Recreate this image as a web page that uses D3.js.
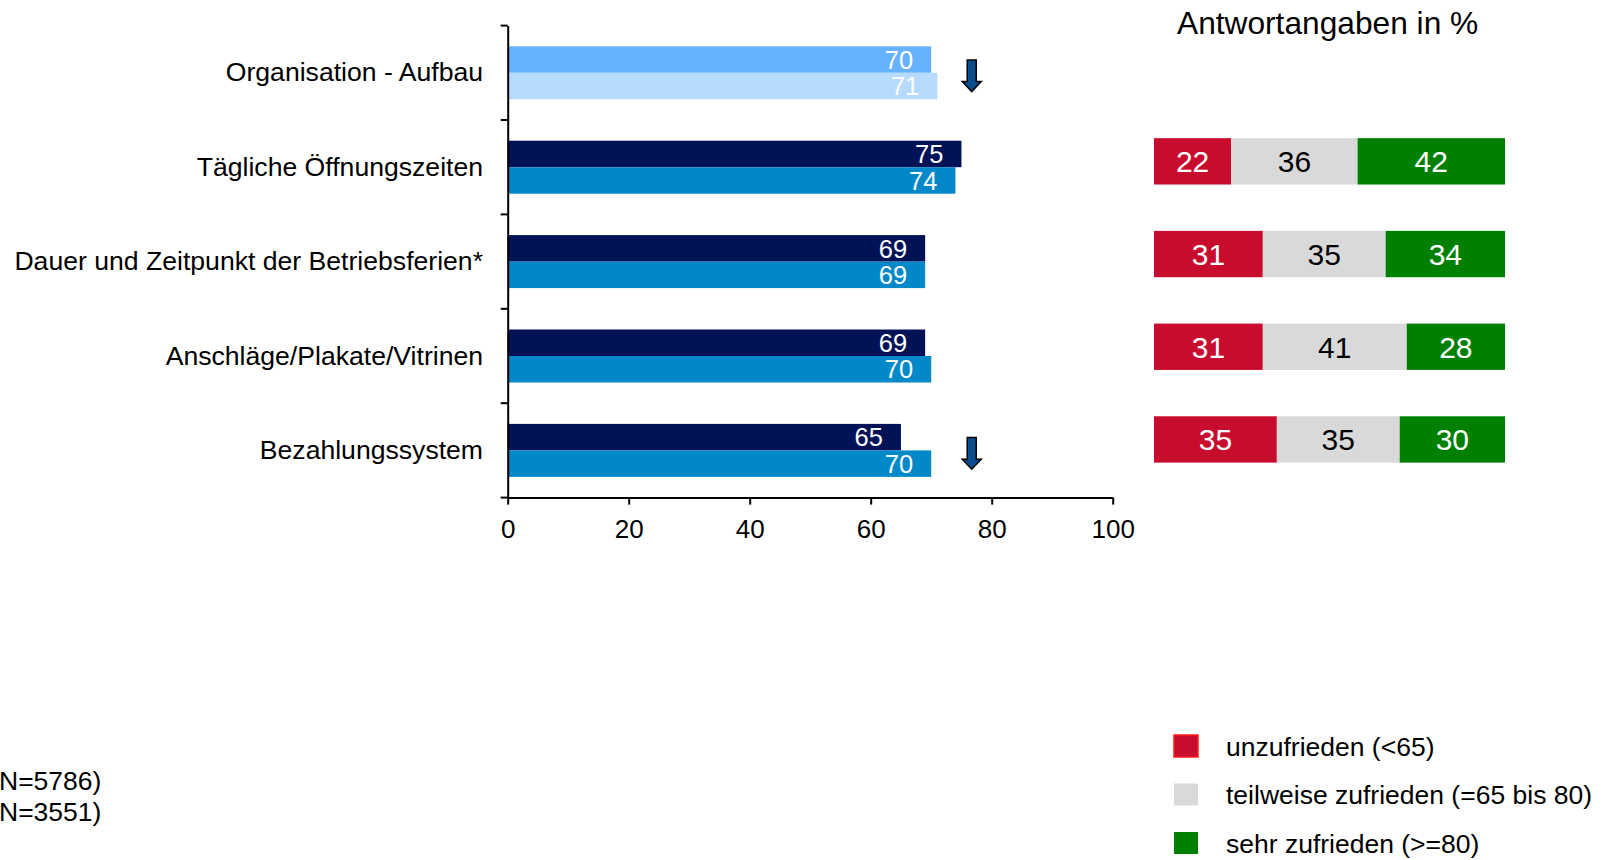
<!DOCTYPE html>
<html>
<head>
<meta charset="utf-8">
<script src="https://cdn.jsdelivr.net/npm/d3@7"></script>
<style>
  body { margin: 0; background: #fff; }
  svg { display: block; font-family: "Liberation Sans", Arial, sans-serif; }
</style>
</head>
<body>
<div id="chart"></div>
<script>
// categories (top to bottom)
const categories = [
  "Organisation - Aufbau",
  "Tägliche Öffnungszeiten",
  "Dauer und Zeitpunkt der Betriebsferien*",
  "Anschläge/Plakate/Vitrinen",
  "Bezahlungssystem"
];
// mean scores, first bar / second bar of each pair
const current = [70, 75, 69, 69, 65];
const previous = [71, 74, 69, 70, 70];
// significance markers
const trend = ["down", null, null, null, "down"];

// answer distribution in % (no values for the first item)
const unzufrieden = [null, 22, 31, 31, 35];
const teilweise   = [null, 36, 35, 41, 35];
const sehr        = [null, 42, 34, 28, 30];

const xTicks = [0, 20, 40, 60, 80, 100];
const legendLabels = ["unzufrieden (<65)", "teilweise zufrieden (=65 bis 80)", "sehr zufrieden (>=80)"];
const sampleNotes = ["N=5786)", "N=3551)"];
const title = "Antwortangaben in %";

const W = 1605, H = 860;
const svg = d3.select("#chart").append("svg")
    .attr("width", W)
    .attr("height", H);

// ---- left: grouped bar chart ----
const x = d3.scaleLinear().domain([0, 100]).range([507.7, 1112.7]);
const y = d3.scaleBand().domain(categories).range([25.6, 497.6]).padding(0);
const ySub = d3.scaleBand().domain(["cur", "prev"]).range([0, y.bandwidth()])
    .paddingInner(0).paddingOuter(0.781);

const rows = categories.map((c, i) => ({
  cat: c, i: i, cur: current[i], prev: previous[i], trend: trend[i]
}));

const colors = {
  cur: "#021257", prev: "#0088C8",
  curHi: "#66B2FF", prevHi: "#B7DAFF"
};

const left = svg.append("g");
const groups = left.selectAll("g.row").data(rows).enter().append("g")
    .attr("class", "row")
    .attr("transform", d => `translate(0, ${y(d.cat)})`);

["cur", "prev"].forEach(key => {
  groups.append("rect")
      .attr("x", x(0))
      .attr("y", ySub(key))
      .attr("width", d => x(d[key]) - x(0))
      .attr("height", ySub.bandwidth())
      .attr("fill", d => d.i === 0 ? colors[key + "Hi"] : colors[key]);
  groups.append("text")
      .attr("x", d => x(d[key]) - 18)
      .attr("y", ySub(key) + ySub.bandwidth() / 2)
      .attr("dy", "0.36em")
      .attr("text-anchor", "end")
      .attr("fill", "#fff")
      .style("font-size", "25.5px")
      .text(d => d[key]);
});

// down arrows
const arrowX = x(76.7);
groups.filter(d => d.trend === "down").append("path")
    .attr("d", () => {
      const cx = arrowX, t = 34.4, h = 56, b = 66;
      return `M${cx - 4.5},${t} L${cx + 4.5},${t} L${cx + 4.5},${h} L${cx + 9.5},${h} ` +
             `L${cx},${b} L${cx - 9.5},${h} L${cx - 4.5},${h} Z`;
    })
    .attr("fill", "#0B4C8C")
    .attr("stroke", "#000")
    .attr("stroke-width", 1.5);

// x axis
const xAxis = left.append("g")
    .attr("transform", `translate(0, ${y.range()[1]})`)
    .call(d3.axisBottom(x).tickValues(xTicks).tickSize(7).tickSizeOuter(0).tickPadding(15));
xAxis.select(".domain").attr("stroke", "#000").attr("stroke-width", 2);
xAxis.selectAll(".tick line").attr("stroke", "#000").attr("stroke-width", 2);
xAxis.selectAll("text").attr("fill", "#000").style("font-size", "26px")
    .attr("font-family", null);

// y axis with labels
const yAxis = left.append("g")
    .attr("transform", `translate(${x(0)}, 0)`)
    .call(d3.axisLeft(y).tickSize(0).tickSizeOuter(0).tickPadding(24.7));
yAxis.select(".domain").attr("stroke", "#000").attr("stroke-width", 2);
yAxis.selectAll("text").attr("fill", "#000").style("font-size", "26.6px")
    .attr("font-family", null);

// boundary ticks between categories
const bounds = categories.map(c => y(c)).concat([y.range()[1]]);
yAxis.selectAll("line.bound").data(bounds).enter().append("line")
    .attr("class", "bound")
    .attr("x1", -7).attr("x2", 0)
    .attr("y1", d => d).attr("y2", d => d)
    .attr("stroke", "#000").attr("stroke-width", 2);

// ---- right: stacked distribution ----
const xr = d3.scaleLinear().domain([0, 100]).range([1154, 1505]);
const yr = d3.scaleBand().domain(categories).range([22.3, 485.8])
    .paddingInner(0.5).paddingOuter(0.25);

const segKeys = ["unzufrieden", "teilweise", "sehr"];
const segColor = { unzufrieden: "#C80C2D", teilweise: "#D9D9D9", sehr: "#008000" };
const segText = { unzufrieden: "#fff", teilweise: "#000", sehr: "#fff" };
const dist = categories.map((c, i) => ({
  cat: c, unzufrieden: unzufrieden[i], teilweise: teilweise[i], sehr: sehr[i]
})).filter(d => d.unzufrieden !== null);

const stacked = d3.stack().keys(segKeys)(dist);

const right = svg.append("g");
const layers = right.selectAll("g.layer").data(stacked).enter().append("g")
    .attr("class", "layer");
layers.selectAll("rect").data(s => s.map(p => ({ key: s.key, p: p }))).enter().append("rect")
    .attr("x", d => xr(d.p[0]))
    .attr("y", d => yr(d.p.data.cat))
    .attr("width", d => xr(d.p[1]) - xr(d.p[0]))
    .attr("height", yr.bandwidth())
    .attr("fill", d => segColor[d.key]);
layers.selectAll("text").data(s => s.map(p => ({ key: s.key, p: p }))).enter().append("text")
    .attr("x", d => (xr(d.p[0]) + xr(d.p[1])) / 2)
    .attr("y", d => yr(d.p.data.cat) + yr.bandwidth() / 2)
    .attr("dy", "0.36em")
    .attr("text-anchor", "middle")
    .attr("fill", d => segText[d.key])
    .style("font-size", "30px")
    .text(d => d.p[1] - d.p[0]);

right.append("text")
    .attr("x", 1177)
    .attr("y", 34)
    .attr("fill", "#000")
    .style("font-size", "31.7px")
    .text(title);

// legend
const legend = svg.append("g").attr("transform", "translate(1174, 746)");
const li = legend.selectAll("g").data(segKeys).enter().append("g")
    .attr("transform", (d, i) => `translate(0, ${i * 48.5})`);
li.append("rect")
    .attr("x", 0).attr("y", -11)
    .attr("width", 24).attr("height", 22)
    .attr("fill", d => segColor[d])
    .attr("stroke", d => d === "unzufrieden" ? "#FF1A1A" : "none")
    .attr("stroke-width", 1.5);
li.append("text")
    .attr("x", 52)
    .attr("dy", "0.36em")
    .attr("fill", "#000")
    .style("font-size", "26.5px")
    .text((d, i) => legendLabels[i]);

// sample size notes (cut at the left edge)
svg.selectAll("text.note").data(sampleNotes).enter().append("text")
    .attr("class", "note")
    .attr("x", -1)
    .attr("y", (d, i) => 790 + i * 31)
    .attr("fill", "#000")
    .style("font-size", "26.5px")
    .text(d => d);
</script>
</body>
</html>
